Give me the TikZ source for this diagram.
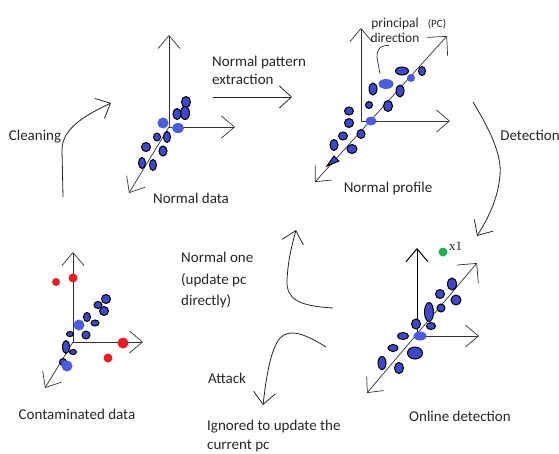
\documentclass[tikz,border=0pt]{standalone}
\usepackage{fontspec}
\setmainfont{Carlito}
\newfontfamily\serifx{Liberation Serif}
\usetikzlibrary{arrows.meta}
\usetikzlibrary{positioning}

\definecolor{indigo}{HTML}{3F48CC}
\definecolor{paleblue}{HTML}{4B5CE2}
\definecolor{paintred}{HTML}{ED1C24}
\definecolor{paintgreen}{HTML}{22B14C}

\begin{document}
\begin{tikzpicture}[x=1pt,y=-1pt,
every node/.style = {font=\fontsize{15}{17.5}\selectfont, text=black!85, inner sep=0pt},
small/.style = {font=\fontsize{13.5}{15}\selectfont},
axis/.style = {line width=0.7pt, black!80, -{Straight Barb[length=13pt,width=22pt]}},
axis2/.style = {line width=0.7pt, black!80, {Straight Barb[length=12pt,width=22pt]}-{Straight Barb[length=14pt,width=28pt]}},
flow/.style = {line width=0.8pt, black!85, -{Straight Barb[length=12pt,width=22pt]}},
darkdot/.style = {fill=indigo, draw=black, line width=1pt},
lightdot/.style = {fill=paleblue},
reddot/.style = {fill=paintred},
greendot/.style = {fill=paintgreen}]
\useasboundingbox (0,0) rectangle (559,453);

% normal data
\coordinate (o1) at (169,127);
\draw[axis] (o1) -- ++(0,-92);
\draw[axis] (o1) -- ++(66,0);
\draw[axis] (o1) -- ++(-40,66);
\foreach \x/\y/\a/\b in {186/102/4.5/5.5, 185/113/4.5/6.5, 177/114/4/5.5, 167/137/3.5/5.5, 157/137/3.5/4,
    146/147/4.5/4.5, 163/151/4/5, 142/163/3.5/5.5, 153/165/3.5/5.5}
  \draw[darkdot] (\x,\y) ellipse [x radius=\a pt, y radius=\b pt];
\foreach \x/\y/\a/\b in {163/123/5.5/5.5, 178/128/6/5}
  \fill[lightdot] (\x,\y) ellipse [x radius=\a pt, y radius=\b pt];
\node (ndata) at (191,198) {Normal data};

% normal profile
\coordinate (o2) at (361,121);
\coordinate (pc-lo) at (315,182);
\coordinate (pc-hi) at (447,36);
\draw[axis] (o2) -- ++(0,-93);
\draw[axis] (o2) -- ++(89,0);
\draw[axis2] (pc-lo) -- (pc-hi);
\foreach \x/\y/\a/\b in {402/71/6.5/4, 422/71/3.5/4.5, 373/89/4/6, 400/91/4/6, 369/105/3.5/3.5,
    388/106/4.5/5.5, 349/111/4.5/4, 349/123/4.5/4.5, 343/136/4.5/4, 361/134/4/4.5, 334/145/4/5.5, 352/149/5/4.5}
  \draw[darkdot] (\x,\y) ellipse [x radius=\a pt, y radius=\b pt];
\foreach \x/\y/\a/\b in {411/78/4/4, 386/84/7.5/5, 371/121/5.5/4.5}
  \fill[lightdot] (\x,\y) ellipse [x radius=\a pt, y radius=\b pt];
\filldraw[darkdot] (327,166) -- (334,156) -- (339,161) -- cycle;
\node[small, align=center] (pdir) at (395,30) {principal\\direction};
\node[font=\fontsize{11}{13}\selectfont] (pclabel) at (437,24) {(PC)};
\coordinate (ptr) at (380,74);
\draw[line width=0.7pt, black!80] (pdir.south) ++(-6,3) .. controls +(-8,0) and +(0,-10) .. ++(-12,12) -- (ptr);
\node (nprof) at (388,188) {Normal profile};

% contaminated data
\coordinate (o3) at (73,342);
\draw[axis] (o3) -- ++(0,-90);
\draw[axis] (o3) -- ++(70,0);
\draw[axis] (o3) -- ++(-28,46);
\foreach \x/\y/\r in {56/282/4, 73/278/4.5, 123/343/5.5, 108/358/4.5}
  \fill[reddot] (\x,\y) circle [radius=\r pt];
\foreach \x/\y/\a/\b in {106/299/4.5/4.5, 98/305/4/3.5, 104/311/4.5/4.5, 87/317/3.5/4.5, 95/323/4/3,
    86/335/4/4, 70/334/3.5/2.5, 66/347/3.5/6.5, 73/352/3.5/2.5, 63/362/3.5/3.5}
  \draw[darkdot] (\x,\y) ellipse [x radius=\a pt, y radius=\b pt];
\foreach \x/\y/\a/\b in {79/325/5.5/5.5, 67/366/5.5/5.5}
  \fill[lightdot] (\x,\y) ellipse [x radius=\a pt, y radius=\b pt];
\node (cdata) at (77,414) {Contaminated data};

% online detection
\coordinate (o4) at (417,336);
\coordinate (od-lo) at (367,393);
\coordinate (od-hi) at (477,263);
\draw[axis, black, line width=1pt] (o4) -- ++(0,-88);
\draw[axis] (o4) -- ++(62,0);
\draw[axis2] (od-lo) -- (od-hi);
\foreach \x/\y/\a/\b in {452/284/4.5/6, 440/294/4.5/4.5, 456/300/5/5, 441/308/4/4, 429/312/4.5/9.5,
    416/324/4.5/5, 431/326/4.5/3.5, 403/336/5.5/3.5, 393/348/5/3.5, 415/353/7.5/6, 382/363/4/6.5, 399/368/4.5/5.5}
  \draw[darkdot] (\x,\y) ellipse [x radius=\a pt, y radius=\b pt];
\fill[lightdot] (420,336) ellipse [x radius=6.5pt, y radius=4.5pt];
\fill[greendot] (443,252) circle [radius=4.5pt];
\node[font=\serifx\fontsize{13}{15}\selectfont, anchor=west] (xone) at (449,246) {x1};
\node (odet) at (460,416) {Online detection};

% steps between the plots
\coordinate (clean-s) at (63,197);
\coordinate (clean-e) at (111,103);
\draw[flow] (clean-s) -- ++(-1,-47) .. controls +(0,-22) and +(-25,12) .. (clean-e);
\node (clean) at (35,137) {Cleaning};

\coordinate (extr-s) at (213,97);
\coordinate (extr-e) at (292,97);
\draw[flow] (extr-s) -- (extr-e);
\node[align=left, anchor=north west] (extract) at (212,56) {Normal pattern\\extraction};

\coordinate (det-s) at (473,102);
\coordinate (det-e) at (477,236);
\draw[flow] (det-s) .. controls (490,130) and (502,155) .. (500,175)
  .. controls (498,200) and (487,220) .. (det-e);
\node (detect) at (530,135) {Detection};

\coordinate (norm-s) at (333,308);
\coordinate (norm-e) at (296,230);
\draw[flow] (norm-s) .. controls (300,306) and (286,300) .. (287,280)
  .. controls (288,260) and (292,245) .. (norm-e);
\node[align=left, anchor=north west] (normone) at (181,252) {Normal one\\[4pt](update pc\\[4pt]directly)};

\coordinate (att-s) at (326,347);
\coordinate (att-e) at (263,405);
\draw[flow] (att-s) .. controls (305,334) and (290,328) .. (280,338)
  .. controls (270,350) and (266,380) .. (att-e);
\node (attack) at (227,378) {Attack};
\node[align=left, anchor=south west] (ignored) at (207,452) {Ignored to update the\\[1pt]current pc};
\end{tikzpicture}
\end{document}
